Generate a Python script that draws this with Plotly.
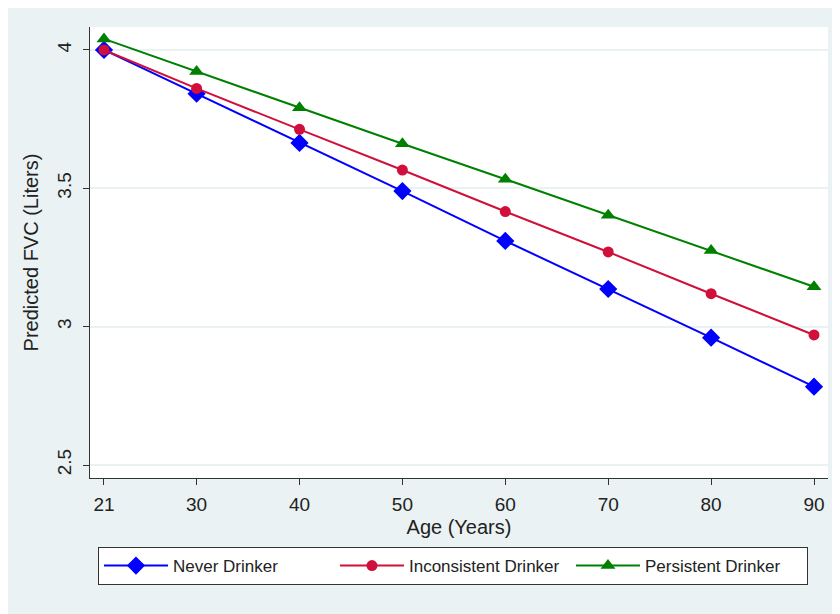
import plotly.graph_objects as go

ages = [21, 30, 40, 50, 60, 70, 80, 90]
never = [4.000, 3.842, 3.664, 3.490, 3.310, 3.136, 2.960, 2.783]
inconsistent = [4.000, 3.861, 3.713, 3.566, 3.416, 3.270, 3.119, 2.970]
persistent = [4.040, 3.922, 3.791, 3.661, 3.533, 3.403, 3.275, 3.144]
x_ticks = [21, 30, 40, 50, 60, 70, 80, 90]
y_ticks = [2.5, 3, 3.5, 4]

FONT = "Liberation Sans, Arial, sans-serif"
BG = "#EAF2F3"

fig = go.Figure()
series = [
    ("Never Drinker", never, "#0000FF", "diamond", 14),
    ("Inconsistent Drinker", inconsistent, "#D0103A", "circle", 11),
    ("Persistent Drinker", persistent, "#008000", "triangle-up", 13),
]
for name, vals, col, sym, sz in series:
    fig.add_trace(go.Scatter(
        x=ages, y=vals, name=name, mode="lines+markers",
        line=dict(color=col, width=2),
        marker=dict(symbol=sym, size=sz, color=col, line=dict(width=0)),
    ))

fig.update_layout(
    width=832, height=606,
    margin=dict(l=82, r=12, t=19, b=136),
    paper_bgcolor=BG, plot_bgcolor="white",
    font=dict(family=FONT, color="#222222", size=19),
    showlegend=True,
    legend=dict(
        orientation="h", x=0.0108, xanchor="left", y=-0.153, yanchor="top",
        bgcolor="white", bordercolor="#333333", borderwidth=1,
        font=dict(family=FONT, size=17, color="#222222"),
        itemwidth=64,
        entrywidth=157, entrywidthmode="pixels",
        itemsizing="trace",
    ),
)
fig.update_xaxes(
    range=[19.64, 91.36], tickmode="array", tickvals=x_ticks,
    ticktext=[str(t) for t in x_ticks],
    showgrid=False, zeroline=False,
    showline=True, linecolor="#333333", linewidth=1,
    ticks="outside", ticklen=6, tickcolor="#333333",
    ticklabelstandoff=3,
    title=dict(text="Age (Years)", font=dict(size=20), standoff=6),
    tickfont=dict(size=19),
)
fig.update_yaxes(
    range=[2.453, 4.083], tickmode="array", tickvals=y_ticks,
    ticktext=["2.5", "3", "3.5", "4"],
    tickangle=-90,
    showgrid=True, gridcolor=BG, gridwidth=1.5, zeroline=False,
    showline=True, linecolor="#333333", linewidth=1,
    ticks="outside", ticklen=6, tickcolor="#333333",
    ticklabelstandoff=4,
    title=dict(text="Predicted FVC (Liters)", font=dict(size=20), standoff=10),
    tickfont=dict(size=19),
)

fig.write_html("out.html")
